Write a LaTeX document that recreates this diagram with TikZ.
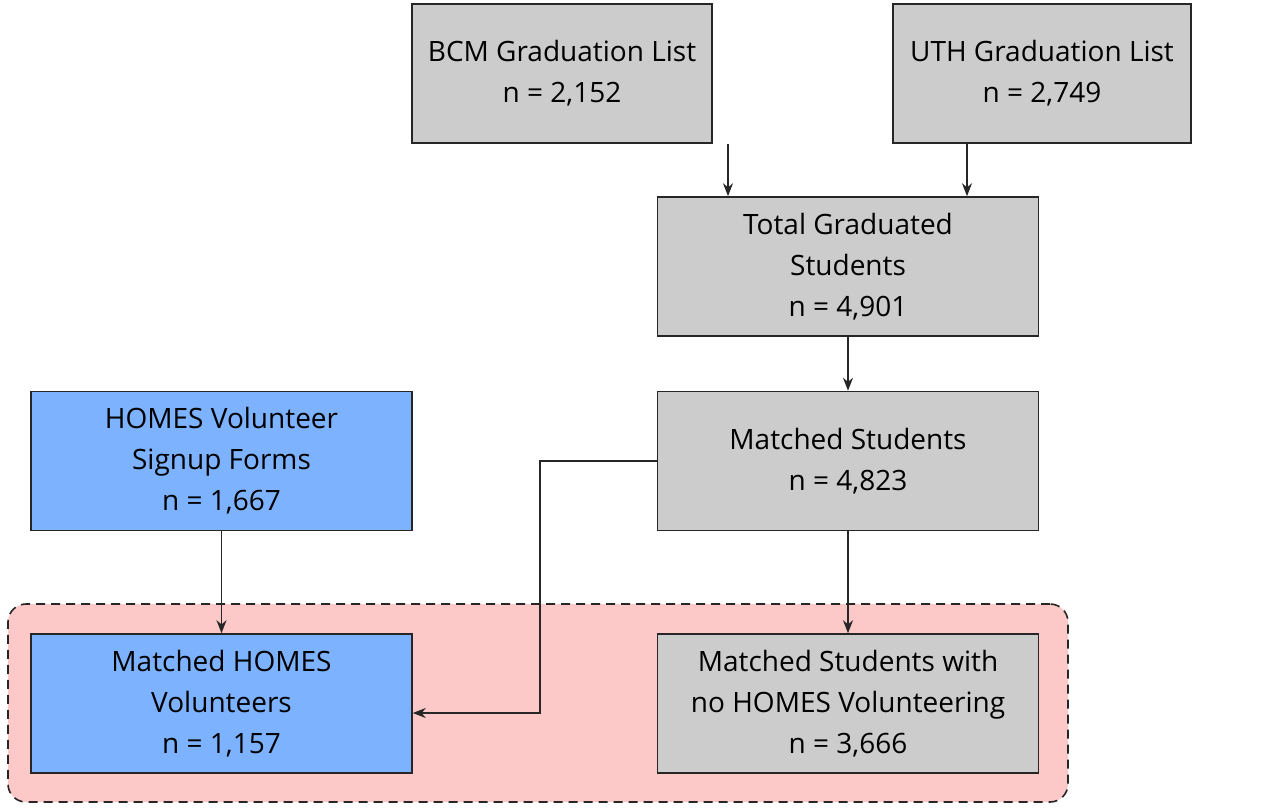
\documentclass[tikz,border=0pt]{standalone}
\usepackage{fontspec}
\setmainfont{Open Sans}
\usetikzlibrary{arrows.meta}
\definecolor{gbox}{RGB}{204,204,204}
\definecolor{bbox}{RGB}{125,178,255}
\definecolor{pinkbg}{RGB}{252,200,200}
\begin{document}
\begin{tikzpicture}[x=1pt,y=-1pt,
  box/.style={draw=black!85,line width=1.6pt,minimum width=#1,minimum height=139pt,align=center,inner sep=2pt,font=\fontsize{28}{41}\selectfont},
  box/.default=381pt,
  arr/.style={-{Stealth[length=13pt,width=10pt]},line width=1.6pt,draw=black!85}]
\useasboundingbox (0,0) rectangle (1280,807);
\node[draw=black!85,dashed,dash pattern=on 9pt off 6pt,line width=1.6pt,fill=pinkbg,rounded corners=18pt,minimum width=1060pt,minimum height=198pt] (region) at (538,703) {};
\node[box=300pt,fill=gbox] (bcm) at (562,73.5) {BCM Graduation List\\n = 2,152};
\node[box=298pt,fill=gbox] (uth) at (1042,73.5) {UTH Graduation List\\n = 2,749};
\node[box,fill=gbox] (tot) at (848,266.5) {Total Graduated\\Students\\n = 4,901};
\node[box,fill=gbox] (ms) at (848,461) {Matched Students\\n = 4,823};
\node[box,fill=bbox] (su) at (221.5,461) {HOMES Volunteer\\Signup Forms\\n = 1,667};
\node[box,fill=bbox] (mh) at (221.5,703.5) {Matched HOMES\\Volunteers\\n = 1,157};
\node[box,fill=gbox] (nh) at (848,703.5) {Matched Students with\\no HOMES Volunteering\\n = 3,666};
\draw[arr] (bcm.south -| 728,0) -- (tot.north -| 728,0);
\draw[arr] (uth.south -| 967,0) -- (tot.north -| 967,0);
\draw[arr] (tot) -- (ms);
\draw[arr] (ms) -- (nh);
\draw[arr] (su) -- (mh);
\coordinate (c1) at (540,461);
\coordinate (c2) at (540,713);
\draw[arr] (ms.west) -- (c1) -- (c2) -- (mh.east |- c2);
\end{tikzpicture}
\end{document}
